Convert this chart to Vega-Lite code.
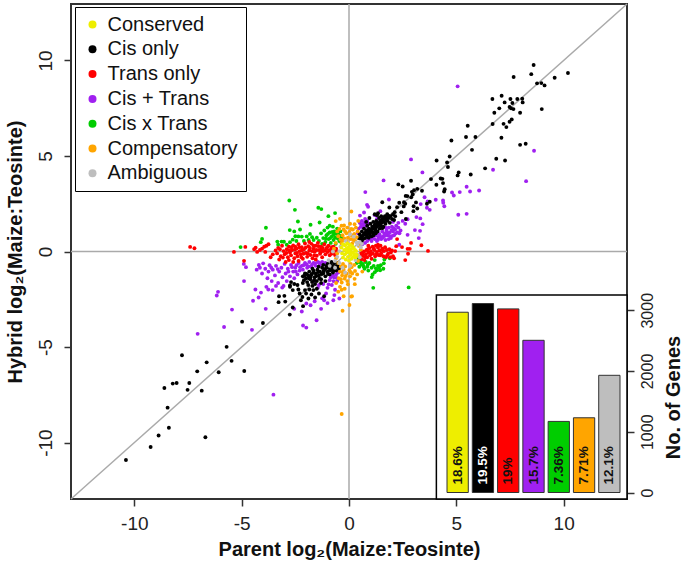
{"$schema":"https://vega.github.io/schema/vega-lite/v6.json","width":556,"height":495,"padding":{"left":71,"top":4,"right":57,"bottom":67},"autosize":{"type":"none"},"background":"white","view":{"stroke":"#333","strokeWidth":2},
"config":{"font":"Liberation Sans"},
"datasets":{
"black":[{"x":8.6,"y":9.76},{"x":8.49,"y":9.28},{"x":7.67,"y":9.13},{"x":10.2,"y":9.34},{"x":9.58,"y":9.09},{"x":8.76,"y":8.8},{"x":8.96,"y":8.81},{"x":9.11,"y":8.69},{"x":6.68,"y":7.98},{"x":7.11,"y":8.15},{"x":7.25,"y":7.8},{"x":7.52,"y":7.98},{"x":7.84,"y":7.98},{"x":8.07,"y":7.99},{"x":8.09,"y":7.8},{"x":7.61,"y":7.77},{"x":7.0,"y":7.49},{"x":6.77,"y":7.26},{"x":7.48,"y":7.56},{"x":7.55,"y":7.49},{"x":7.66,"y":7.45},{"x":7.97,"y":7.26},{"x":8.98,"y":7.45},{"x":6.69,"y":6.67},{"x":7.2,"y":6.68},{"x":7.33,"y":6.51},{"x":7.48,"y":6.79},{"x":7.58,"y":6.91},{"x":5.53,"y":6.58},{"x":4.77,"y":5.81},{"x":5.45,"y":5.99},{"x":5.89,"y":5.99},{"x":7.1,"y":5.95},{"x":7.97,"y":5.58},{"x":8.23,"y":5.64},{"x":5.73,"y":5.32},{"x":4.69,"y":4.97},{"x":4.08,"y":4.76},{"x":4.57,"y":4.66},{"x":4.61,"y":4.42},{"x":6.86,"y":4.85},{"x":7.27,"y":4.76},{"x":6.34,"y":4.35},{"x":5.11,"y":4.14},{"x":5.06,"y":3.98},{"x":5.67,"y":4.03},{"x":3.82,"y":3.79},{"x":4.27,"y":3.82},{"x":4.35,"y":3.8},{"x":4.38,"y":3.58},{"x":4.07,"y":3.49},{"x":4.46,"y":3.26},{"x":4.43,"y":3.14},{"x":2.89,"y":3.7},{"x":2.3,"y":3.51},{"x":2.5,"y":3.4},{"x":3.18,"y":3.28},{"x":3.03,"y":3.21},{"x":2.93,"y":3.12},{"x":3.4,"y":3.18},{"x":2.64,"y":2.91},{"x":2.72,"y":2.9},{"x":2.97,"y":2.98},{"x":2.9,"y":2.84},{"x":1.55,"y":2.58},{"x":2.34,"y":2.55},{"x":2.56,"y":2.58},{"x":2.62,"y":2.5},{"x":3.12,"y":2.57},{"x":3.76,"y":2.6},{"x":3.63,"y":2.5},{"x":2.24,"y":2.32},{"x":2.55,"y":2.36},{"x":3.01,"y":2.37},{"x":3.18,"y":2.25},{"x":3.0,"y":2.11},{"x":1.88,"y":2.3},{"x":2.44,"y":2.06},{"x":2.13,"y":2.06},
{"x":0.45,"y":0.7},{"x":0.5,"y":0.9},{"x":0.55,"y":0.62},{"x":0.6,"y":1.05},{"x":0.62,"y":0.8},{"x":0.66,"y":0.65},{"x":0.7,"y":1.2},{"x":0.72,"y":0.95},{"x":0.75,"y":0.7},{"x":0.8,"y":1.1},{"x":0.82,"y":0.85},{"x":0.85,"y":1.35},{"x":0.88,"y":0.75},{"x":0.9,"y":1.0},{"x":0.93,"y":1.2},{"x":0.96,"y":0.9},{"x":1.0,"y":1.45},{"x":1.02,"y":1.1},{"x":1.05,"y":0.8},{"x":1.08,"y":1.3},{"x":1.1,"y":1.0},{"x":1.13,"y":1.55},{"x":1.15,"y":1.2},{"x":1.18,"y":0.95},{"x":1.2,"y":1.4},{"x":1.24,"y":1.1},{"x":1.27,"y":1.6},{"x":1.3,"y":1.3},{"x":1.33,"y":1.05},{"x":1.36,"y":1.5},{"x":1.4,"y":1.75},{"x":1.42,"y":1.2},{"x":1.45,"y":1.6},{"x":1.48,"y":1.35},{"x":1.5,"y":1.85},{"x":1.53,"y":1.5},{"x":1.57,"y":1.7},{"x":1.6,"y":1.3},{"x":1.63,"y":1.55},{"x":1.67,"y":1.85},{"x":1.7,"y":1.45},{"x":1.73,"y":1.65},{"x":1.78,"y":1.95},{"x":1.8,"y":1.6},{"x":1.85,"y":1.75},{"x":1.9,"y":1.5},{"x":1.93,"y":1.85},{"x":2.0,"y":1.7},{"x":2.05,"y":1.95},{"x":2.1,"y":1.65},{"x":2.15,"y":1.85},{"x":1.2,"y":1.95},{"x":0.95,"y":1.75},{"x":0.8,"y":1.55},{"x":1.3,"y":1.9},{"x":0.6,"y":0.55},{"x":2.65,"y":1.7},{"x":1.35,"y":2.0},{"x":0.57,"y":0.78},{"x":0.68,"y":0.88},{"x":0.77,"y":0.98},{"x":0.87,"y":1.12},{"x":0.98,"y":1.02},{"x":1.07,"y":1.18},{"x":1.17,"y":1.32},{"x":1.22,"y":1.22},{"x":1.28,"y":1.45},{"x":1.37,"y":1.38},{"x":1.44,"y":1.48},{"x":1.52,"y":1.62},{"x":1.62,"y":1.72},{"x":1.72,"y":1.78},{"x":1.83,"y":1.88},{"x":0.92,"y":0.72},{"x":1.14,"y":0.85},{"x":1.25,"y":0.95},{"x":1.55,"y":1.22},
{"x":-10.39,"y":-10.91},{"x":-9.24,"y":-10.23},{"x":-8.87,"y":-9.63},{"x":-8.39,"y":-9.22},{"x":-6.69,"y":-9.72},{"x":-8.45,"y":-8.17},{"x":-8.6,"y":-7.14},{"x":-8.21,"y":-6.91},{"x":-8.03,"y":-6.88},{"x":-7.44,"y":-6.88},{"x":-7.52,"y":-7.24},{"x":-6.86,"y":-7.28},{"x":-7.07,"y":-6.27},{"x":-7.78,"y":-5.43},{"x":-6.63,"y":-5.8},{"x":-6.07,"y":-6.32},{"x":-5.7,"y":-4.99},{"x":-5.47,"y":-5.72},{"x":-4.88,"y":-6.25},{"x":-4.98,"y":-3.67},{"x":-4.01,"y":-3.74},{"x":-3.26,"y":-2.34},{"x":-3.01,"y":-2.32},{"x":-3.28,"y":-2.65},{"x":-2.97,"y":-2.62},{"x":-2.62,"y":-2.93},{"x":-2.76,"y":-3.3},{"x":-2.14,"y":-2.86},{"x":-2.24,"y":-2.55},{"x":-2.17,"y":-2.38},{"x":-2.75,"y":-1.85},{"x":-2.62,"y":-2.02},{"x":-2.36,"y":-1.99},{"x":-2.05,"y":-2.02},{"x":-1.85,"y":-1.99},{"x":-1.66,"y":-2.02},{"x":-1.58,"y":-2.41},{"x":-1.16,"y":-2.34},{"x":-1.89,"y":-2.46},{"x":-2.75,"y":-1.78},{"x":-2.7,"y":-1.6},{"x":-2.55,"y":-1.7},{"x":-2.4,"y":-1.75},{"x":-2.3,"y":-2.2},{"x":-2.15,"y":-1.65},{"x":-2.0,"y":-2.2},{"x":-1.9,"y":-1.75},{"x":-1.75,"y":-2.25},{"x":-1.7,"y":-1.8},{"x":-1.5,"y":-1.95},{"x":-1.4,"y":-2.2},
{"x":-2.15,"y":-1.3},{"x":-2.1,"y":-1.5},{"x":-2.05,"y":-1.15},{"x":-2.0,"y":-1.4},{"x":-1.95,"y":-1.6},{"x":-1.9,"y":-1.25},{"x":-1.85,"y":-1.05},{"x":-1.8,"y":-1.45},{"x":-1.75,"y":-1.2},{"x":-1.72,"y":-1.6},{"x":-1.65,"y":-1.0},{"x":-1.6,"y":-1.35},{"x":-1.55,"y":-1.15},{"x":-1.5,"y":-1.55},{"x":-1.47,"y":-0.95},{"x":-1.4,"y":-1.25},{"x":-1.35,"y":-1.05},{"x":-1.3,"y":-1.45},{"x":-1.25,"y":-0.85},{"x":-1.2,"y":-1.15},{"x":-1.15,"y":-0.95},{"x":-1.1,"y":-1.3},{"x":-1.05,"y":-0.75},{"x":-1.0,"y":-1.05},{"x":-0.95,"y":-0.85},{"x":-0.9,"y":-1.2},{"x":-0.85,"y":-0.7},{"x":-0.8,"y":-0.95},{"x":-0.75,"y":-1.1},{"x":-0.7,"y":-0.65},{"x":-0.65,"y":-0.85},{"x":-0.6,"y":-1.0},{"x":-0.55,"y":-0.6},{"x":-0.5,"y":-0.75},{"x":-0.47,"y":-0.9},{"x":-1.58,"y":-1.7},{"x":-1.3,"y":-1.65},{"x":-1.1,"y":-1.55},{"x":-1.7,"y":-0.9},{"x":-1.42,"y":-0.8},{"x":-1.2,"y":-0.7},{"x":-1.0,"y":-0.65},{"x":-0.82,"y":-0.55},{"x":-2.08,"y":-1.27},{"x":-1.97,"y":-1.18},{"x":-1.87,"y":-1.4},{"x":-1.78,"y":-1.32},{"x":-1.68,"y":-1.12},{"x":-1.62,"y":-1.5},{"x":-1.52,"y":-1.28},{"x":-1.44,"y":-1.08},{"x":-1.38,"y":-1.42},{"x":-1.28,"y":-1.18},{"x":-1.18,"y":-1.02},{"x":-1.08,"y":-0.88},{"x":-0.98,"y":-1.18},{"x":-0.88,"y":-0.98},{"x":-0.78,"y":-0.8},{"x":-0.68,"y":-0.98},{"x":-0.58,"y":-0.78}],
"red":[{"x":-7.4,"y":0.24},{"x":-7.2,"y":0.17},{"x":-4.83,"y":0.24},{"x":-5.36,"y":-0.02},{"x":-4.89,"y":-0.49},{"x":-4.42,"y":0.12},{"x":-4.35,"y":0.2},{"x":-4.28,"y":-0.02},{"x":-4.15,"y":0.08},{"x":-4.05,"y":0.15},{"x":-3.95,"y":0.25},{"x":-3.85,"y":0.3},{"x":-3.75,"y":0.38},{"x":-3.9,"y":-0.02},{"x":-3.65,"y":-0.3},{"x":-3.55,"y":-0.15},{"x":-3.42,"y":0.05},{"x":-3.35,"y":-0.1},{"x":-3.3,"y":0.18},{"x":-3.25,"y":-0.42},{"x":-3.18,"y":-0.25},{"x":-3.12,"y":0.3},{"x":-3.05,"y":0.02},{"x":-3.0,"y":-0.15},{"x":-2.95,"y":-0.55},{"x":-2.9,"y":0.12},{"x":-2.85,"y":-0.3},{"x":-2.8,"y":0.25},{"x":-2.75,"y":-0.05},{"x":-2.7,"y":-0.2},{"x":-2.65,"y":0.08},{"x":-2.6,"y":0.32},{"x":-2.55,"y":-0.35},{"x":-2.5,"y":-0.1},{"x":-2.45,"y":0.15},{"x":-2.4,"y":-0.25},{"x":-2.35,"y":0.38},{"x":-2.3,"y":0.02},{"x":-2.25,"y":-0.15},{"x":-2.2,"y":0.22},{"x":-2.15,"y":-0.38},{"x":-2.1,"y":0.1},{"x":-2.05,"y":0.42},{"x":-2.0,"y":-0.08},{"x":-1.95,"y":-0.28},{"x":-1.9,"y":0.28},{"x":-1.85,"y":0.05},{"x":-1.8,"y":-0.18},{"x":-1.75,"y":0.4},{"x":-1.7,"y":-0.35},{"x":-1.65,"y":0.15},{"x":-1.6,"y":-0.02},{"x":-1.55,"y":0.3},{"x":-1.5,"y":-0.22},{"x":-1.45,"y":0.45},{"x":-1.4,"y":0.08},{"x":-1.35,"y":-0.12},{"x":-1.3,"y":0.25},{"x":-1.25,"y":-0.3},{"x":-1.2,"y":0.02},{"x":-1.15,"y":0.38},{"x":-1.1,"y":-0.15},{"x":-1.05,"y":0.15},{"x":-1.0,"y":-0.03},{"x":-0.95,"y":0.3},{"x":-0.9,"y":-0.2},{"x":-0.85,"y":0.1},{"x":-0.8,"y":0.22},{"x":-0.75,"y":-0.08},{"x":-0.7,"y":0.05},{"x":-0.65,"y":-0.18},{"x":-0.6,"y":0.15},{"x":-0.55,"y":-0.02},{"x":-2.8,"y":-0.45},{"x":-2.6,"y":-0.55},{"x":-2.35,"y":-0.5},{"x":-1.55,"y":-0.42},{"x":-1.85,"y":0.5},{"x":-2.5,"y":0.25},{"x":-2.2,"y":0.05},{"x":-1.65,"y":0.3},{"x":-1.3,"y":0.12},{"x":-3.22,"y":0.12},{"x":-3.08,"y":-0.32},{"x":-2.92,"y":-0.08},{"x":-2.78,"y":0.05},{"x":-2.68,"y":0.22},{"x":-2.52,"y":0.1},{"x":-2.42,"y":-0.08},{"x":-2.32,"y":0.22},{"x":-2.22,"y":-0.3},{"x":-2.12,"y":-0.12},{"x":-2.02,"y":0.2},{"x":-1.92,"y":-0.12},{"x":-1.82,"y":0.18},{"x":-1.72,"y":0.02},{"x":-1.62,"y":-0.2},{"x":-1.52,"y":0.08},{"x":-1.42,"y":0.28},{"x":-1.32,"y":-0.05},{"x":-1.22,"y":0.18},{"x":-1.12,"y":0.05},{"x":-1.02,"y":0.22},{"x":-0.92,"y":0.05},{"x":-0.82,"y":-0.12},{"x":-0.72,"y":0.25},{"x":-0.62,"y":0.05},
{"x":3.68,"y":0.03},{"x":3.37,"y":0.33},{"x":2.89,"y":0.45},{"x":2.73,"y":0.14},{"x":2.83,"y":0.14},{"x":2.75,"y":-0.12},{"x":2.62,"y":-0.45},{"x":2.24,"y":0.65},{"x":2.47,"y":0.23},{"x":0.5,"y":-0.3},{"x":0.55,"y":-0.12},{"x":0.6,"y":-0.4},{"x":0.65,"y":-0.22},{"x":0.7,"y":0.0},{"x":0.72,"y":-0.45},{"x":0.78,"y":-0.15},{"x":0.82,"y":0.08},{"x":0.85,"y":-0.3},{"x":0.9,"y":-0.05},{"x":0.95,"y":0.18},{"x":0.98,"y":-0.2},{"x":1.02,"y":0.02},{"x":1.05,"y":-0.38},{"x":1.1,"y":0.25},{"x":1.12,"y":-0.12},{"x":1.18,"y":0.08},{"x":1.22,"y":-0.25},{"x":1.25,"y":0.3},{"x":1.3,"y":-0.02},{"x":1.35,"y":0.2},{"x":1.38,"y":-0.18},{"x":1.42,"y":0.05},{"x":1.47,"y":0.3},{"x":1.5,"y":-0.1},{"x":1.55,"y":0.15},{"x":1.6,"y":-0.25},{"x":1.63,"y":0.02},{"x":1.68,"y":0.22},{"x":1.72,"y":-0.3},{"x":1.76,"y":0.08},{"x":1.82,"y":-0.12},{"x":1.88,"y":0.12},{"x":1.92,"y":-0.3},{"x":1.95,"y":-0.05},{"x":2.0,"y":0.05},{"x":2.05,"y":-0.25},{"x":2.1,"y":-0.35},{"x":2.15,"y":0.02},{"x":0.9,"y":0.3},{"x":1.35,"y":0.35},{"x":0.63,"y":-0.05},{"x":0.75,"y":-0.3},{"x":0.88,"y":0.12},{"x":1.0,"y":-0.12},{"x":1.15,"y":0.15},{"x":1.28,"y":-0.15},{"x":1.45,"y":-0.2},{"x":1.58,"y":0.05},{"x":1.78,"y":-0.2},{"x":2.2,"y":0.28}],
"purple":[{"x":5.06,"y":8.64},{"x":8.62,"y":5.27},{"x":2.89,"y":4.82},{"x":6.71,"y":4.28},{"x":3.42,"y":4.14},{"x":8.25,"y":3.68},{"x":1.61,"y":3.72},{"x":0.76,"y":3.11},{"x":5.48,"y":3.39},{"x":6.06,"y":3.19},{"x":5.64,"y":3.14},{"x":5.16,"y":3.11},{"x":4.8,"y":3.09},{"x":4.88,"y":2.93},{"x":3.52,"y":2.84},{"x":1.86,"y":2.72},{"x":4.04,"y":2.71},{"x":4.38,"y":2.67},{"x":4.39,"y":2.55},{"x":4.44,"y":2.37},{"x":3.66,"y":2.62},{"x":3.34,"y":2.48},{"x":3.63,"y":2.29},{"x":3.76,"y":2.18},{"x":5.09,"y":1.92},{"x":5.48,"y":1.97},{"x":0.84,"y":2.44},{"x":0.89,"y":2.34},{"x":1.46,"y":2.11},{"x":0.7,"y":2.04},{"x":0.51,"y":1.88},{"x":3.14,"y":1.8},{"x":3.32,"y":1.73},{"x":2.73,"y":1.69},{"x":2.62,"y":1.45},{"x":3.43,"y":1.43},{"x":3.07,"y":1.12},{"x":3.31,"y":1.08},{"x":2.73,"y":0.87},{"x":3.25,"y":0.7},{"x":2.34,"y":0.35},
{"x":0.45,"y":1.2},{"x":0.5,"y":1.5},{"x":0.55,"y":1.3},{"x":0.6,"y":1.6},{"x":0.65,"y":1.25},{"x":0.7,"y":1.5},{"x":0.75,"y":1.7},{"x":0.8,"y":1.35},{"x":0.85,"y":1.6},{"x":0.9,"y":1.45},{"x":0.42,"y":0.95},{"x":0.5,"y":0.4},{"x":0.62,"y":0.38},{"x":0.75,"y":0.45},{"x":0.85,"y":0.55},{"x":0.95,"y":0.65},{"x":1.05,"y":0.55},{"x":1.1,"y":0.72},{"x":1.2,"y":0.65},{"x":1.25,"y":0.85},{"x":1.3,"y":0.55},{"x":1.38,"y":0.75},{"x":1.42,"y":0.9},{"x":1.5,"y":0.65},{"x":1.55,"y":1.05},{"x":1.6,"y":0.8},{"x":1.65,"y":0.95},{"x":1.7,"y":0.6},{"x":1.75,"y":1.1},{"x":1.8,"y":0.85},{"x":1.85,"y":1.25},{"x":1.9,"y":1.0},{"x":1.95,"y":0.7},{"x":2.0,"y":1.3},{"x":2.05,"y":1.05},{"x":2.1,"y":0.85},{"x":2.15,"y":1.15},{"x":2.2,"y":1.35},{"x":2.25,"y":1.0},{"x":2.3,"y":1.25},{"x":2.35,"y":0.95},{"x":2.4,"y":1.1},{"x":1.2,"y":1.9},{"x":1.7,"y":1.25},{"x":2.5,"y":1.6},{"x":2.05,"y":1.55},{"x":2.3,"y":1.5},{"x":1.3,"y":1.7},{"x":0.58,"y":1.42},{"x":0.68,"y":1.38},{"x":0.78,"y":1.52},{"x":1.35,"y":0.62},{"x":1.46,"y":0.78},{"x":1.58,"y":0.72},{"x":1.68,"y":0.82},{"x":1.78,"y":0.98},{"x":1.88,"y":0.82},{"x":1.98,"y":1.12},{"x":2.08,"y":1.22},{"x":2.18,"y":0.95},{"x":1.85,"y":0.65},{"x":2.02,"y":0.82},
{"x":-6.1,"y":-2.11},{"x":-6.16,"y":-2.3},{"x":-5.45,"y":-3.04},{"x":-7.05,"y":-4.31},{"x":-5.82,"y":-3.95},{"x":-4.52,"y":-4.1},{"x":-3.88,"y":-3.0},{"x":-3.52,"y":-7.49},{"x":-1.51,"y":-3.6},{"x":-2.14,"y":-3.87},{"x":-1.99,"y":-3.98},{"x":-2.2,"y":-3.14},{"x":-4.36,"y":-1.99},{"x":-4.1,"y":-2.15},{"x":-4.21,"y":-2.41},{"x":-4.47,"y":-2.58},{"x":-3.76,"y":-1.99},{"x":-3.56,"y":-2.02},{"x":-3.11,"y":-1.89},{"x":-0.73,"y":-2.55},{"x":-1.16,"y":-2.55},{"x":-1.79,"y":-2.81},{"x":-1.99,"y":-2.72},{"x":-0.68,"y":-2.28},{"x":-0.45,"y":-2.46},{"x":-1.07,"y":-2.2},{"x":-4.89,"y":-1.55},{"x":-4.8,"y":-0.82},{"x":-4.9,"y":-0.65},
{"x":-4.3,"y":-0.95},{"x":-4.2,"y":-0.7},{"x":-4.15,"y":-0.85},{"x":-4.05,"y":-1.15},{"x":-4.0,"y":-0.62},{"x":-3.9,"y":-0.9},{"x":-3.8,"y":-1.4},{"x":-3.75,"y":-1.05},{"x":-3.7,"y":-0.72},{"x":-3.6,"y":-1.55},{"x":-3.55,"y":-0.95},{"x":-3.45,"y":-1.25},{"x":-3.4,"y":-0.75},{"x":-3.3,"y":-1.65},{"x":-3.25,"y":-1.05},{"x":-3.15,"y":-0.85},{"x":-3.1,"y":-1.35},{"x":-3.0,"y":-0.65},{"x":-2.95,"y":-1.15},{"x":-2.9,"y":-1.55},{"x":-2.85,"y":-0.9},{"x":-2.75,"y":-1.3},{"x":-2.7,"y":-0.7},{"x":-2.6,"y":-1.05},{"x":-2.55,"y":-1.4},{"x":-2.5,"y":-0.85},{"x":-2.4,"y":-1.2},{"x":-2.35,"y":-0.6},{"x":-2.3,"y":-1.0},{"x":-2.2,"y":-0.75},{"x":-2.15,"y":-0.95},{"x":-2.05,"y":-0.6},{"x":-1.95,"y":-0.85},{"x":-1.85,"y":-0.55},{"x":-1.75,"y":-0.8},{"x":-1.65,"y":-0.6},{"x":-1.55,"y":-0.75},{"x":-1.45,"y":-0.55},{"x":-1.35,"y":-0.7},{"x":-1.25,"y":-0.55},{"x":-1.1,"y":-0.6},{"x":-3.85,"y":-1.85},{"x":-3.4,"y":-1.8},{"x":-3.05,"y":-1.8},{"x":-2.55,"y":-3.0},{"x":-1.65,"y":-1.55},{"x":-1.4,"y":-1.75},{"x":-1.2,"y":-1.7},{"x":-1.0,"y":-1.9},{"x":-0.9,"y":-1.5},{"x":-0.8,"y":-1.75},{"x":-0.7,"y":-1.35},{"x":-0.65,"y":-2.0},{"x":-0.6,"y":-1.2},{"x":-0.55,"y":-1.55},{"x":-0.5,"y":-1.1},{"x":-0.75,"y":-1.25},{"x":-1.45,"y":-1.9},{"x":-1.25,"y":-2.45},{"x":-1.6,"y":-2.6},{"x":-1.0,"y":-2.7},{"x":-1.3,"y":-3.0},{"x":-2.45,"y":-0.72},{"x":-2.28,"y":-0.82},{"x":-2.12,"y":-0.72},{"x":-1.98,"y":-0.68},{"x":-1.88,"y":-0.78},{"x":-1.72,"y":-0.68},{"x":-1.58,"y":-0.62},{"x":-1.38,"y":-0.6},{"x":-3.62,"y":-0.85},{"x":-3.32,"y":-0.92},{"x":-2.82,"y":-1.05},{"x":-2.65,"y":-0.82},{"x":-2.48,"y":-1.05},{"x":-0.85,"y":-1.35},{"x":-0.72,"y":-1.55},{"x":-0.58,"y":-1.38},{"x":-0.95,"y":-1.72}],
"green":[{"x":1.13,"y":-1.9},{"x":2.78,"y":-1.88},{"x":1.06,"y":-1.34},{"x":1.1,"y":-1.2},{"x":1.2,"y":-1.08},{"x":1.3,"y":-0.98},{"x":1.45,"y":-0.98},{"x":1.6,"y":-0.9},{"x":1.62,"y":-0.62},{"x":1.48,"y":-0.72},{"x":1.35,"y":-0.75},{"x":1.15,"y":-0.75},{"x":1.05,"y":-0.85},{"x":0.9,"y":-1.0},{"x":0.85,"y":-0.8},{"x":0.72,"y":-0.9},{"x":0.65,"y":-0.65},{"x":0.55,"y":-0.55},{"x":0.48,"y":-0.8},{"x":0.42,"y":-0.4},{"x":0.36,"y":-0.6},{"x":0.95,"y":-0.6},{"x":0.78,"y":-0.55},{"x":1.9,"y":-0.35},{"x":1.65,"y":-0.42},{"x":1.2,"y":-0.45},{"x":1.25,"y":-0.88},{"x":1.4,"y":-0.85},{"x":0.68,"y":-0.78},{"x":0.58,"y":-0.68},{"x":0.48,"y":-0.55},{"x":0.88,"y":-0.68},
{"x":-2.78,"y":2.67},{"x":-2.52,"y":2.18},{"x":-1.43,"y":2.29},{"x":-1.29,"y":2.22},{"x":-0.96,"y":1.85},{"x":-0.65,"y":2.01},{"x":-2.38,"y":1.57},{"x":-1.37,"y":1.52},{"x":-1.79,"y":1.4},{"x":-3.87,"y":1.24},{"x":-2.76,"y":1.12},{"x":-2.55,"y":1.05},{"x":-2.28,"y":1.15},{"x":-2.36,"y":0.79},{"x":-1.82,"y":0.92},{"x":-1.97,"y":0.79},{"x":-4.05,"y":0.66},{"x":-4.11,"y":0.49},{"x":-3.34,"y":0.52},{"x":-3.14,"y":0.52},{"x":-3.03,"y":0.51},{"x":-2.75,"y":0.49},{"x":-5.05,"y":0.23},{"x":-3.3,"y":0.35},{"x":-2.9,"y":0.35},{"x":-2.5,"y":0.8},{"x":-2.2,"y":0.78},{"x":-2.1,"y":0.55},{"x":-1.65,"y":0.6},{"x":-1.5,"y":0.72},{"x":-1.4,"y":0.55},{"x":-1.3,"y":0.95},{"x":-1.2,"y":0.7},{"x":-1.15,"y":1.1},{"x":-1.1,"y":0.5},{"x":-1.05,"y":0.85},{"x":-1.0,"y":1.25},{"x":-0.95,"y":0.65},{"x":-0.9,"y":1.0},{"x":-0.85,"y":0.45},{"x":-0.8,"y":0.8},{"x":-0.75,"y":1.3},{"x":-0.72,"y":0.6},{"x":-0.68,"y":1.05},{"x":-0.62,"y":0.4},{"x":-0.58,"y":0.75},{"x":-0.55,"y":1.2},{"x":-0.5,"y":0.9},{"x":-0.45,"y":0.55},{"x":-0.4,"y":1.05},{"x":-0.35,"y":0.7},{"x":-0.9,"y":1.35},{"x":-0.7,"y":0.9},{"x":-1.25,"y":0.4},{"x":-1.08,"y":0.68},{"x":-0.98,"y":0.92},{"x":-0.88,"y":0.7},{"x":-0.78,"y":1.02},{"x":-0.65,"y":0.72},{"x":-0.6,"y":0.95},{"x":-0.52,"y":0.68},{"x":-0.42,"y":0.82},{"x":-2.62,"y":0.62},{"x":-2.45,"y":0.55},{"x":-1.88,"y":0.6},{"x":-1.72,"y":0.75}],
"orange":[{"x":-0.34,"y":-8.5},{"x":0.11,"y":2.09},{"x":-0.42,"y":1.71},{"x":-0.62,"y":1.59},{"x":-0.23,"y":1.36},{"x":0.43,"y":1.6},{"x":0.26,"y":1.43},{"x":-0.35,"y":1.35},{"x":-0.55,"y":1.05},{"x":-0.25,"y":1.15},{"x":-0.08,"y":1.25},{"x":0.05,"y":1.45},{"x":0.18,"y":1.15},{"x":0.32,"y":1.25},{"x":0.4,"y":1.05},{"x":-0.5,"y":0.8},{"x":-0.3,"y":0.85},{"x":-0.12,"y":0.95},{"x":0.02,"y":1.02},{"x":0.12,"y":0.85},{"x":0.25,"y":0.92},{"x":0.35,"y":0.75},{"x":-0.4,"y":0.62},{"x":-0.22,"y":0.68},{"x":-0.05,"y":0.72},{"x":0.08,"y":0.65},{"x":0.2,"y":0.6},{"x":0.3,"y":0.55},{"x":-0.62,"y":0.45},{"x":-0.35,"y":0.42},{"x":0.15,"y":0.42},{"x":0.45,"y":0.3},{"x":-0.7,"y":0.15},{"x":-0.55,"y":-0.1},{"x":0.55,"y":0.1},{"x":0.35,"y":-0.2},{"x":-0.6,"y":-0.35},{"x":0.42,"y":-0.5},{"x":-0.5,"y":-0.6},{"x":0.25,"y":-0.7},{"x":-0.38,"y":-0.78},{"x":0.12,"y":-0.82},{"x":-0.25,"y":-0.95},{"x":0.02,"y":-0.98},{"x":-0.42,"y":-1.05},{"x":0.28,"y":-1.02},{"x":-0.12,"y":-1.15},{"x":0.15,"y":-1.15},{"x":-0.32,"y":-1.25},{"x":-0.48,"y":-1.4},{"x":0.05,"y":-1.3},{"x":0.26,"y":-1.43},{"x":-0.2,"y":-1.42},{"x":-0.08,"y":-1.55},{"x":-0.34,"y":-1.62},{"x":0.27,"y":-1.71},{"x":-0.05,"y":-1.72},{"x":-0.42,"y":-1.85},{"x":-0.2,"y":-1.95},{"x":-0.34,"y":-2.0},{"x":0.1,"y":-2.36},{"x":-0.25,"y":-2.34},{"x":0.14,"y":-2.34},{"x":-0.5,"y":-2.1},{"x":-0.6,"y":-1.65},{"x":0.62,"y":-1.05},{"x":0.38,"y":-1.2},{"x":-0.3,"y":-3.1},{"x":0.02,"y":-2.8},{"x":-0.45,"y":1.18},{"x":-0.18,"y":1.05},{"x":0.1,"y":1.18},{"x":0.22,"y":0.75},{"x":-0.32,"y":0.55},{"x":-0.12,"y":0.55},{"x":-0.28,"y":-0.65},{"x":0.08,"y":-0.65},{"x":-0.18,"y":-0.78},{"x":-0.3,"y":-1.08},{"x":0.08,"y":-1.08},{"x":-0.15,"y":-1.28},{"x":-0.38,"y":-1.45}],
"grey":[{"x":-0.95,"y":-0.45},{"x":-0.65,"y":-0.5},{"x":-0.55,"y":-0.28},{"x":-0.75,"y":0.0},{"x":-0.45,"y":-0.6},{"x":-0.3,"y":-0.85},{"x":-0.18,"y":-1.1},{"x":0.05,"y":-0.75},{"x":0.4,"y":0.35},{"x":0.5,"y":0.5},{"x":0.55,"y":0.22},{"x":0.6,"y":0.4},{"x":0.35,"y":0.48},{"x":0.22,"y":0.78},{"x":0.05,"y":0.9},{"x":-0.15,"y":0.55},{"x":-0.4,"y":0.25},{"x":0.42,"y":-0.15},{"x":0.3,"y":-0.45},{"x":-0.65,"y":-0.85},{"x":-0.9,"y":-0.75},{"x":-0.45,"y":0.02},{"x":0.5,"y":-0.3},{"x":-0.25,"y":0.35}],
"yellow":[{"x":-0.35,"y":0.2},{"x":-0.32,"y":-0.1},{"x":-0.28,"y":0.38},{"x":-0.28,"y":-0.32},{"x":-0.22,"y":0.08},{"x":-0.2,"y":-0.15},{"x":-0.18,"y":0.32},{"x":-0.15,"y":-0.42},{"x":-0.12,"y":0.15},{"x":-0.1,"y":-0.05},{"x":-0.08,"y":0.42},{"x":-0.05,"y":-0.28},{"x":-0.02,"y":0.22},{"x":0.0,"y":-0.48},{"x":0.02,"y":0.02},{"x":0.05,"y":0.35},{"x":0.08,"y":-0.18},{"x":0.1,"y":0.12},{"x":0.12,"y":-0.38},{"x":0.15,"y":0.28},{"x":0.18,"y":-0.05},{"x":0.2,"y":-0.28},{"x":0.22,"y":0.18},{"x":0.25,"y":-0.15},{"x":0.28,"y":0.08},{"x":0.3,"y":-0.32},{"x":0.33,"y":0.02},{"x":0.36,"y":-0.18},{"x":-0.05,"y":0.08},{"x":0.05,"y":-0.08}],
"bars":[{"cat":"Conserved","genes":2967,"pct":"18.6%"},{"cat":"Cis only","genes":3110,"pct":"19.5%"},{"cat":"Trans only","genes":3022,"pct":"19%"},{"cat":"Cis + Trans","genes":2505,"pct":"15.7%"},{"cat":"Cis x Trans","genes":1170,"pct":"7.36%"},{"cat":"Compensatory","genes":1230,"pct":"7.71%"},{"cat":"Ambiguous","genes":1929,"pct":"12.1%"}]},
"resolve":{"scale":{"x":"independent","y":"independent"},"axis":{"x":"independent","y":"independent"}},
"layer":[
{"layer":[
{"data":{"values":[{"a":0}]},"mark":{"type":"rule","color":"#aaa","strokeWidth":1.5},"encoding":{"x":{"field":"a","type":"quantitative","scale":{"domain":[-12.95,12.95],"nice":false,"zero":false},"axis":{"values":[-10,-5,0,5,10],"labelExpr":"''+datum.value","title":"Parent log₂(Maize:Teosinte)","titleFontSize":20,"titleFontWeight":"bold","titleColor":"#111","labelFontSize":19,"labelColor":"#222","tickColor":"#333","tickWidth":1.5,"tickSize":7,"labelPadding":8,"domain":false,"grid":false,"titlePadding":6.5}}}},
{"data":{"values":[{"a":0}]},"mark":{"type":"rule","color":"#aaa","strokeWidth":1.5},"encoding":{"y":{"field":"a","type":"quantitative","scale":{"domain":[-12.95,12.95],"nice":false,"zero":false},"axis":{"values":[-10,-5,0,5,10],"labelExpr":"''+datum.value","title":"Hybrid log₂(Maize:Teosinte)","titleFontSize":20,"titleFontWeight":"bold","titleColor":"#111","labelFontSize":19,"labelColor":"#222","labelAngle":-90,"labelAlign":"center","labelBaseline":"bottom","tickColor":"#333","tickWidth":1.5,"tickSize":7,"labelPadding":9,"domain":false,"grid":false,"titlePadding":11}}}},
{"data":{"values":[{"a":-12.95,"b":12.95}]},"mark":{"type":"rule","color":"#aaa","strokeWidth":1.5},"encoding":{"x":{"field":"a","type":"quantitative"},"x2":{"field":"b"},"y":{"field":"a","type":"quantitative"},"y2":{"field":"b"}}},
{"data":{"name":"purple"},"mark":{"type":"circle","size":15,"opacity":1},"encoding":{"x":{"field":"x","type":"quantitative"},"y":{"field":"y","type":"quantitative"},"color":{"datum":"Cis + Trans","type":"nominal","scale":{"domain":["Conserved","Cis only","Trans only","Cis + Trans","Cis x Trans","Compensatory","Ambiguous"],"range":["#EEEE00","#000000","#FF0000","#A020F0","#00CD00","#FFA500","#BEBEBE"]},"legend":{"orient":"none","legendX":4,"legendY":3,"title":null,"fillColor":"white","strokeColor":"black","padding":7.5,"labelFontSize":20,"labelColor":"#111","symbolSize":64,"symbolStrokeWidth":0,"rowPadding":4.8,"labelOffset":5,"symbolType":"circle","encode":{"legend":{"update":{"strokeWidth":{"value":1.5}}}}}}}},
{"data":{"name":"green"},"mark":{"type":"circle","size":15,"opacity":1},"encoding":{"x":{"field":"x","type":"quantitative"},"y":{"field":"y","type":"quantitative"},"color":{"datum":"Cis x Trans","type":"nominal"}}},
{"data":{"name":"red"},"mark":{"type":"circle","size":15,"opacity":1},"encoding":{"x":{"field":"x","type":"quantitative"},"y":{"field":"y","type":"quantitative"},"color":{"datum":"Trans only","type":"nominal"}}},
{"data":{"name":"black"},"mark":{"type":"circle","size":15,"opacity":1},"encoding":{"x":{"field":"x","type":"quantitative"},"y":{"field":"y","type":"quantitative"},"color":{"datum":"Cis only","type":"nominal"}}},
{"data":{"name":"orange"},"mark":{"type":"circle","size":15,"opacity":1},"encoding":{"x":{"field":"x","type":"quantitative"},"y":{"field":"y","type":"quantitative"},"color":{"datum":"Compensatory","type":"nominal"}}},
{"data":{"name":"grey"},"mark":{"type":"circle","size":15,"opacity":1},"encoding":{"x":{"field":"x","type":"quantitative"},"y":{"field":"y","type":"quantitative"},"color":{"datum":"Ambiguous","type":"nominal"}}},
{"data":{"name":"yellow"},"mark":{"type":"circle","size":15,"opacity":1},"encoding":{"x":{"field":"x","type":"quantitative"},"y":{"field":"y","type":"quantitative"},"color":{"datum":"Conserved","type":"nominal"}}},
{"data":{"values":[{"x0":4.07,"x1":12.95,"y0":-12.95,"y1":-2.27}]},"mark":{"type":"rect","fill":"white","stroke":"black","strokeWidth":1.5},"encoding":{"x":{"field":"x0","type":"quantitative"},"x2":{"field":"x1"},"y":{"field":"y0","type":"quantitative"},"y2":{"field":"y1"}}}
]},
{"data":{"name":"bars"},"encoding":{"x":{"field":"cat","type":"nominal","sort":null,"scale":{"range":[376,549],"paddingInner":0.158,"paddingOuter":0},"axis":null},"y":{"type":"quantitative"}},"layer":[
{"mark":{"type":"bar","stroke":"#333","strokeWidth":1},"encoding":{"y":{"field":"genes","type":"quantitative","scale":{"domain":[0,3300],"range":[488.5,288],"nice":false},"axis":{"orient":"right","values":[0,1000,2000,3000],"labelExpr":"''+datum.value","title":"No. of Genes","titleAngle":270,"titleBaseline":"top","titleY":393,"titleFontSize":20,"titleFontWeight":"bold","titleColor":"#111","labelFontSize":16,"labelColor":"#222","labelAngle":-90,"labelAlign":"center","labelBaseline":"top","tickColor":"#333","tickWidth":1.5,"tickSize":7,"labelPadding":5,"domain":false,"grid":false,"titlePadding":8}},"fill":{"field":"cat","type":"nominal","scale":{"domain":["Conserved","Cis only","Trans only","Cis + Trans","Cis x Trans","Compensatory","Ambiguous"],"range":["#EEEE00","#000000","#FF0000","#A020F0","#00CD00","#FFA500","#BEBEBE"]},"legend":null}}},
{"mark":{"type":"text","angle":270,"align":"left","baseline":"middle","fontSize":13.5,"fontWeight":"bold"},"encoding":{"y":{"datum":130,"type":"quantitative"},"text":{"field":"pct"},"color":{"condition":{"test":"datum.cat==='Cis only'","value":"white"},"value":"#111"}}}
]}
]}
